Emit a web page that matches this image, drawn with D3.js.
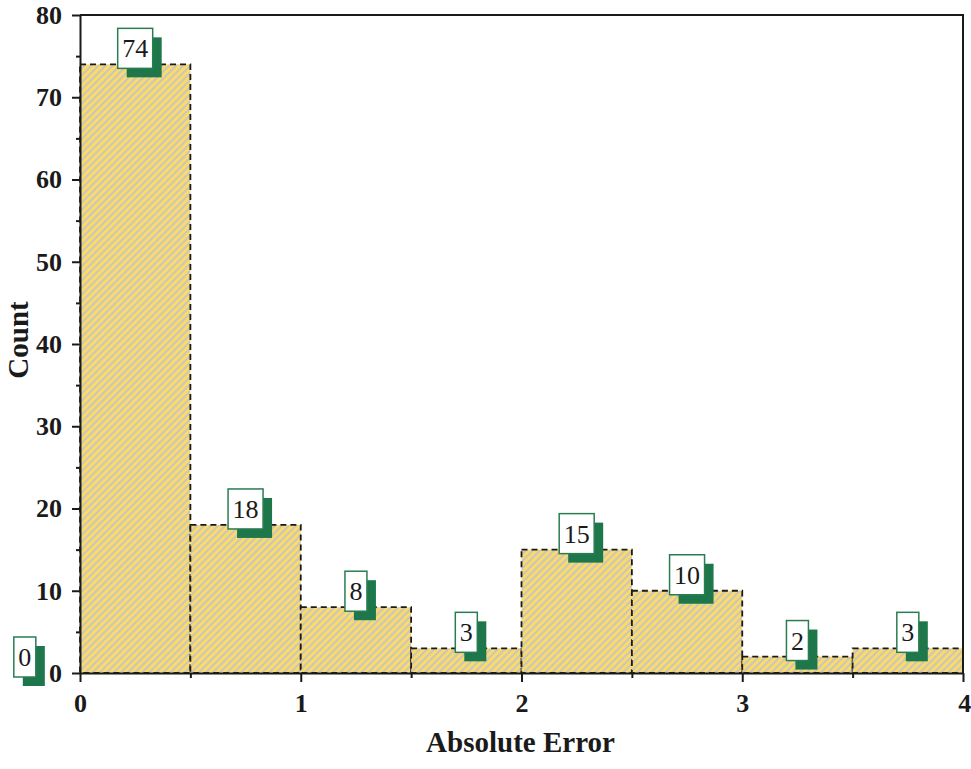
<!DOCTYPE html>
<html lang="en">
<head>
<meta charset="UTF-8">
<title>Absolute Error histogram</title>
<script src="https://d3js.org/d3.v7.min.js"></script>
<style>
  body { margin: 0; background: #fff; }
  svg { display: block; }
  svg text { font-family: "Times New Roman", Times, "Liberation Serif", serif !important; }
  .tick text { font-size: 26px; font-weight: bold; fill: #1a1a1a; }
  .title { font-size: 29px; font-weight: bold; fill: #1a1a1a; }
  .lbl { font-size: 26px; fill: #1a1a1a; }
</style>
</head>
<body>
<svg id="chart" width="971" height="769"></svg>
<script>
// histogram bins (left edge, right edge) and counts
const binStart = [-0.5, 0, 0.5, 1, 1.5, 2, 2.5, 3, 3.5];
const binEnd   = [0, 0.5, 1, 1.5, 2, 2.5, 3, 3.5, 4];
const counts   = [0, 74, 18, 8, 3, 15, 10, 2, 3];
const xTicks = [0, 1, 2, 3, 4];
const yTicks = [0, 10, 20, 30, 40, 50, 60, 70, 80];

const W = 971, H = 769;
const m = {top: 15, right: 8, bottom: 96, left: 80};
const svg = d3.select("#chart");

const x = d3.scaleLinear().domain([0, 4]).range([m.left, W - m.right]);
const y = d3.scaleLinear().domain([0, 80]).range([H - m.bottom, m.top]);

// striped fill
const defs = svg.append("defs");
const pat = defs.append("pattern")
  .attr("id", "stripes")
  .attr("patternUnits", "userSpaceOnUse")
  .attr("width", 5).attr("height", 5)
  .attr("patternTransform", "rotate(45)");
pat.append("rect").attr("width", 5).attr("height", 5).attr("fill", "#fbda6c");
pat.append("rect").attr("width", 2).attr("height", 5).attr("fill", "#c9c6bb");

const data = binStart.map((s, i) => ({s: s, e: binEnd[i], c: counts[i]}));

// bars
svg.append("g").selectAll("rect")
  .data(data.filter(d => d.c > 0))
  .join("rect")
  .attr("x", d => x(d.s))
  .attr("y", d => y(d.c))
  .attr("width", d => x(d.e) - x(d.s))
  .attr("height", d => y(0) - y(d.c))
  .attr("fill", "url(#stripes)")
  .attr("stroke", "#1a1a1a")
  .attr("stroke-width", 1.8)
  .attr("stroke-dasharray", "6,4");

// axes
const yAxis = svg.append("g")
  .attr("transform", `translate(${m.left},0)`)
  .call(d3.axisLeft(y).tickValues(yTicks).tickSize(8).tickPadding(10).tickSizeOuter(0));
const yMinor = svg.append("g")
  .attr("transform", `translate(${m.left},0)`)
  .call(d3.axisLeft(y).tickValues(d3.range(5, 80, 10)).tickSize(4).tickFormat("").tickSizeOuter(0));
const xAxis = svg.append("g")
  .attr("transform", `translate(0,${H - m.bottom})`)
  .call(d3.axisBottom(x).tickValues(xTicks).tickFormat(d3.format("d")).tickSize(9).tickPadding(12).tickSizeOuter(0));
const xMinor = svg.append("g")
  .attr("transform", `translate(0,${H - m.bottom})`)
  .call(d3.axisBottom(x).tickValues([0.5, 1.5, 2.5, 3.5]).tickSize(5).tickFormat("").tickSizeOuter(0));

[yAxis, yMinor, xAxis, xMinor].forEach(g => {
  g.attr("font-family", null).attr("font-size", null);
  g.selectAll("path, line").attr("stroke", "#1a1a1a").attr("stroke-width", 2);
});
yMinor.select(".domain").remove();
xMinor.select(".domain").remove();
// last x label sits at the right edge
xAxis.selectAll(".tick text").filter(d => d === 4).attr("text-anchor", "end").attr("dx", "0.3em");

// top and right frame
svg.append("path")
  .attr("d", `M${m.left},${m.top}H${W - m.right}V${H - m.bottom}`)
  .attr("fill", "none").attr("stroke", "#1a1a1a").attr("stroke-width", 2);

// axis titles
svg.append("text").attr("class", "title")
  .attr("x", (m.left + W - m.right) / 2 - 1).attr("y", 752)
  .attr("text-anchor", "middle").text("Absolute Error");
svg.append("text").attr("class", "title")
  .attr("transform", `translate(28,${(m.top + H - m.bottom) / 2 - 4}) rotate(-90)`)
  .attr("text-anchor", "middle").text("Count");

// value labels with offset shadow
const lg = svg.append("g").selectAll("g").data(data).join("g")
  .attr("transform", d => `translate(${x((d.s + d.e) / 2)},${y(d.c) - 16})`);
lg.each(function(d) {
  const g = d3.select(this);
  const shadow = g.append("rect").attr("fill", "#1e774a");
  const box = g.append("rect").attr("fill", "#fff")
    .attr("stroke", "#2a7d52").attr("stroke-width", 1.5);
  const t = g.append("text").attr("class", "lbl")
    .attr("text-anchor", "middle").attr("dy", "0.35em").text(d.c);
  const w = t.node().getComputedTextLength() + 9;
  const h = 40;
  box.attr("x", -w / 2).attr("y", -h / 2).attr("width", w).attr("height", h);
  shadow.attr("x", -w / 2 + 9).attr("y", -h / 2 + 9).attr("width", w).attr("height", h);
});
</script>
</body>
</html>
